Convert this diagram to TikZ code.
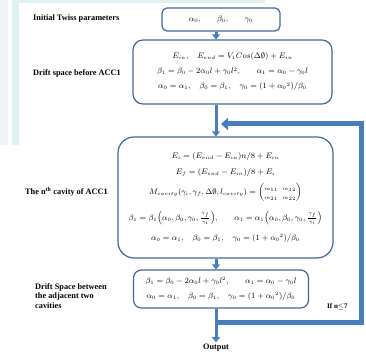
\documentclass[tikz,border=0pt]{standalone}
\usepackage{amsmath,amssymb}
\usepackage{fontspec}
\setmainfont{Liberation Serif}
\usepackage{tikz}
\usepackage{xcolor}
\usetikzlibrary{positioning,arrows.meta,calc}

\definecolor{boxline}{RGB}{66,104,152}
\definecolor{flowblue}{RGB}{74,126,187}
\definecolor{paneA}{RGB}{240,246,248}
\definecolor{paneB}{RGB}{226,239,243}

\begin{document}
\begin{tikzpicture}[
          x=1pt, y=-1pt,
          box/.style={draw=boxline, line width=1.2pt, align=center, inner sep=0pt,
                      font=\fontsize{7.6}{9}\selectfont},
          lbl/.style={font=\fontsize{8.3}{9.5}\selectfont\bfseries, align=left, inner sep=0pt},
          flow/.style={flowblue, line width=3pt, -{Triangle[width=8pt,length=5pt]}},
          back/.style={flowblue, line width=5pt, -{Triangle[width=12pt,length=7pt]}}
      ]
        \useasboundingbox (0,0) rectangle (366,352);
        % faint panels of the scanned page
        \fill[paneA] (0,0) rectangle (8,145);
        \fill[paneB] (12,0) rectangle (19,145);
        \fill[paneB] (19,0) rectangle (265,3);

        \node[box, rounded corners=5pt, minimum width=118pt, minimum height=23pt] (twiss) at (221,19.5)
            {$\alpha_0,\qquad \beta_0,\qquad \gamma_0$};
        \node[box, rounded corners=10pt, minimum width=199pt, minimum height=64pt] (drift) at (232.5,72)
            {$E_{in},\quad E_{end}=V_1Cos(\Delta\emptyset)+E_{in}$\\[6pt]
             $\beta_1=\beta_0-2\alpha_0l+\gamma_0l^2,\qquad \alpha_1=\alpha_0-\gamma_0l$\\[6pt]
             $\alpha_0=\alpha_1,\quad \beta_0=\beta_1,\quad \gamma_0=(1+{\alpha_0}^2)/\beta_0$};
        \node[box, rounded corners=16pt, minimum width=215pt, minimum height=121pt] (cav) at (225.5,197.5)
            {$E_i=(E_{end}-E_{in})n/8+E_{in}$\\[7pt]
             $E_f=(E_{end}-E_{in})/8+E_i$\\[6pt]
             $M_{cavity}(\gamma_i,\gamma_f,\Delta\emptyset,l_{cavity})=\left(\begin{array}{@{}c@{\;\;}c@{}}
                \scriptstyle m_{11}&\scriptstyle m_{12}\\ \scriptstyle m_{21}&\scriptstyle m_{22}\end{array}\right)$\\[8pt]
             $\beta_1=\beta_1\Bigl(\alpha_0,\beta_0,\gamma_0,\tfrac{\gamma_f}{\gamma_i}\Bigr),\qquad
              \alpha_1=\alpha_1\Bigl(\alpha_0,\beta_0,\gamma_0,\tfrac{\gamma_f}{\gamma_i}\Bigr)$\\[8pt]
             $\alpha_0=\alpha_1,\quad \beta_0=\beta_1,\quad \gamma_0=(1+{\alpha_0}^2)/\beta_0$};
        \node[box, rounded corners=8pt, minimum width=175pt, minimum height=38pt] (gap) at (221,289)
            {$\beta_1=\beta_0-2\alpha_0l+\gamma_0l^2,\qquad \alpha_1=\alpha_0-\gamma_0l$\\[6pt]
             $\alpha_0=\alpha_1,\quad \beta_0=\beta_1,\quad \gamma_0=(1+{\alpha_0}^2)/\beta_0$};

        \node[lbl, anchor=west] (l1) at (33,19) {Initial Twiss parameters};
        \node[lbl, anchor=west] (l2) at (33,73) {Drift space before ACC1};
        \node[lbl, anchor=west] (l3) at (25,192) {The n$^{\text{th}}$ cavity of ACC1};
        \node[lbl, anchor=west] (l4) at (35,296) {Drift Space between\\the adjacent two\\cavities};
        \node[lbl, anchor=west, font=\fontsize{7}{8}\selectfont\bfseries] (cond) at (327,307) {If n$\leq$7};
        \node[lbl, inner sep=2pt] (out) at (216,348) {Output};

        \coordinate (ax) at (216,0);
        \coordinate (lpstart) at (216,322);
        \coordinate (lpcorner) at (361,124);
        \coordinate (lpend) at (221,124);

        \draw[flow] (twiss.south -| ax) -- (drift.north -| ax);
        \draw[flow] (drift.south -| ax) -- (cav.north -| ax);
        \draw[flow] (cav.south -| ax) -- (gap.north -| ax);
        \draw[flow] (gap.south -| ax) -- (out.north);
        \draw[back] (lpstart) -| (lpcorner) -- (lpend);
      \end{tikzpicture}
\end{document}
